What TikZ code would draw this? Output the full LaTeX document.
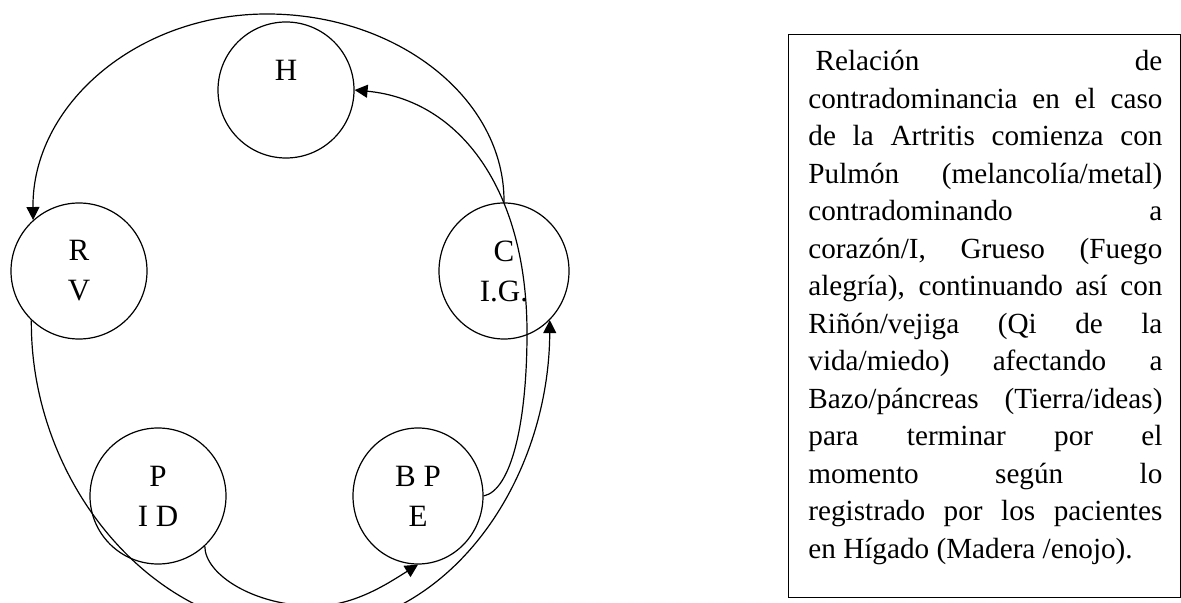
\documentclass[tikz,border=0pt]{standalone}
\usepackage{fontspec}
\setmainfont{Liberation Serif}
\usetikzlibrary{shapes.geometric,arrows.meta}
\begin{document}
\begin{tikzpicture}[x=0.5pt,y=-0.5pt,
  organ/.style={ellipse, draw, line width=0.6pt, inner sep=0pt,
    minimum width=68pt, minimum height=68pt, align=center,
    font=\fontsize{15.5}{20}\selectfont},
  narrow/.style={minimum width=65pt},
  link/.style={line width=0.6pt},
  linkarrow/.style={link, -{Triangle[length=6.5pt,width=6.5pt]}},
  frame/.style={draw, line width=0.6pt, inner sep=0pt},
  desc/.style={inner sep=0pt, text width=177pt, align=justify,
    font=\fontsize{14.6}{18.75}\selectfont}
]
\useasboundingbox (0,0) rectangle (1181,603);
\clip (0,0) rectangle (1181,603);

% organ circles
\node[organ] (H) at (286,90) {H\\\mbox{}};
\node[organ] (RV) at (79,271) {R\\V};
\node[organ, narrow] (C) at (504,271) {C\\I.G.};
\node[organ] (P) at (158,496) {P\\I D};
\node[organ, narrow] (BP) at (418,496) {B P\\E};

% connectors
\draw[linkarrow] (C.north) .. controls (505,99) and (398,14) .. (267,14)
  .. controls (137,14) and (32,105) .. (RV.132);
\draw[linkarrow] (BP.east) .. controls (512,490) and (527,420) .. (527,333)
  .. controls (527,190) and (460,100) .. (H.east);
\draw[linkarrow] (RV.226) .. controls (30,480) and (150,630) .. (300,630)
  .. controls (450,630) and (549,480) .. (C.-47);
\draw[linkarrow] (P.-47) .. controls (205,575) and (255,606) .. (315,606)
  .. controls (355,606) and (390,582) .. (BP.south);

% description box
\node[frame, anchor=north west, minimum width=196pt, minimum height=281.5pt] (box) at (788,34) {};
\node[desc, anchor=north west] (text) at (808,50) {%
\hspace*{3.6pt}Relación de\linebreak
contradominancia en el caso\linebreak
de la Artritis comienza con\linebreak
Pulmón (melancolía/metal)\linebreak
contradominando a\linebreak
corazón/I, Grueso (Fuego\linebreak
alegría), continuando así con\linebreak
Riñón/vejiga (Qi de la\linebreak
vida/miedo) afectando a\linebreak
Bazo/páncreas (Tierra/ideas)\linebreak
para terminar por el\linebreak
momento según lo\linebreak
registrado por los pacientes\linebreak
en Hígado (Madera /enojo).};
\end{tikzpicture}
\end{document}
